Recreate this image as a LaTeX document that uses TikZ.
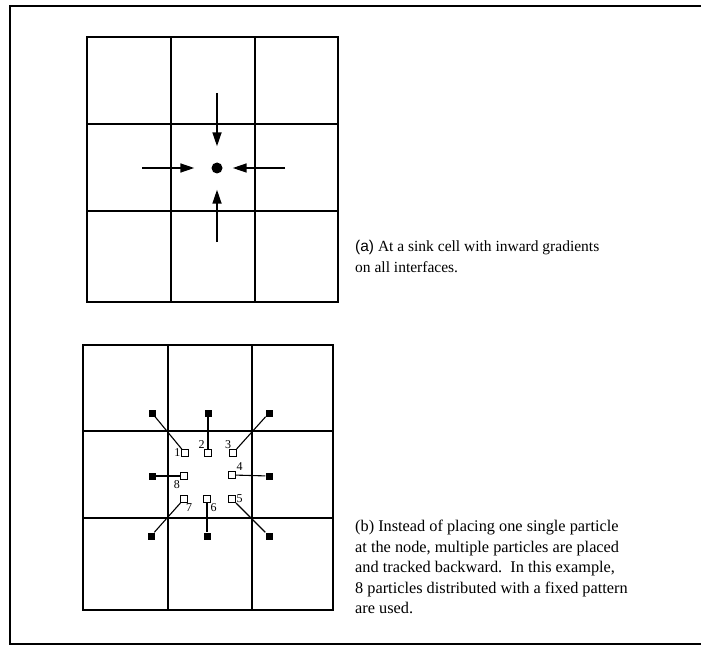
\documentclass[tikz,border=0pt]{standalone}
\usepackage{fontspec}
\setmainfont{Liberation Serif}
\setsansfont{Liberation Sans}
\usetikzlibrary{arrows.meta}

\tikzset{
	cellline/.style = {line width=2.1pt, black},
	gradarrow/.style = {line width=1.7pt, -{Triangle[length=14pt, width=9pt]}},
	sinkdot/.style = {circle, fill=black, inner sep=0pt, minimum size=11pt},
	opensq/.style = {draw, line width=1pt, fill=white, inner sep=0pt, minimum size=7pt},
	fullsq/.style = {fill=black, inner sep=0pt, minimum size=7pt},
	track/.style = {line width=1.1pt},
	numlbl/.style = {font=\fontsize{12}{12}\selectfont, inner sep=0.5pt},
	caption/.style = {align=left, inner sep=0pt, font=\fontsize{15.5}{21}\selectfont},
}

\begin{document}
\begin{tikzpicture}[x=1pt, y=-1pt]
	\useasboundingbox (0,0) rectangle (701,647);
	\draw [line width=1.5pt] (701,6) -- (10,6) -- (10,644) -- (701,644);
	% (a) sink cell
	\draw [cellline] (87,37) rectangle (338,302);
	\draw [cellline] (171,37) -- (171,302);
	\draw [cellline] (255,37) -- (255,302);
	\draw [cellline] (87,124) -- (338,124);
	\draw [cellline] (87,211) -- (338,211);
	\node [sinkdot] (dot) at (217,168) {};
	\coordinate (gt) at (217,93);
	\coordinate (gb) at (217,242);
	\coordinate (gl) at (142,168);
	\coordinate (gr) at (285,168);
	\draw [gradarrow, shorten >=16pt] (gt) -- (dot);
	\draw [gradarrow, shorten >=16pt] (gb) -- (dot);
	\draw [gradarrow, shorten >=17pt] (gl) -- (dot);
	\draw [gradarrow, shorten >=10pt] (gr) -- (dot);
	\node [caption, anchor=north west] (capa) at (355,240) {\textsf{(a)} At a sink cell with inward gradients\\on all interfaces.};
	% (b) particles
	\draw [cellline] (83,345) rectangle (333,610);
	\draw [cellline] (168,345) -- (168,610);
	\draw [cellline] (252,345) -- (252,610);
	\draw [cellline] (83,431) -- (333,431);
	\draw [cellline] (83,518) -- (333,518);
	\node [fullsq] (q1) at (152,413) {};
	\node [fullsq] (q2) at (208,413) {};
	\node [fullsq] (q3) at (269,413) {};
	\node [fullsq] (q4) at (269,476) {};
	\node [fullsq] (q5) at (269,536) {};
	\node [fullsq] (q6) at (207,536) {};
	\node [fullsq] (q7) at (151,536) {};
	\node [fullsq] (q8) at (152,476) {};
	\node [opensq, label={[numlbl]left:1}] (p1) at (185,453) {};
	\node [opensq, label={[numlbl]125:2}] (p2) at (208,453) {};
	\node [opensq, label={[numlbl]105:3}] (p3) at (233,453) {};
	\node [opensq, label={[numlbl]40:4}] (p4) at (232,475) {};
	\node [opensq, label={[numlbl]right:5}] (p5) at (232,499) {};
	\node [opensq, label={[numlbl]-55:6}] (p6) at (207,499) {};
	\node [opensq, label={[numlbl]-70:7}] (p7) at (184,499) {};
	\node [opensq, label={[numlbl]-130:8}] (p8) at (184,476) {};
	\draw [track] (p1) -- (q1);
	\draw [track] (p2) -- (q2);
	\draw [track] (p3) -- (q3);
	\draw [track] (p4) -- (q4);
	\draw [track] (p5) -- (q5);
	\draw [track] (p6) -- (q6);
	\draw [track] (p7) -- (q7);
	\draw [track] (p8) -- (q8);
	\node [caption, anchor=north west, font=\fontsize{16.3}{20.5}\selectfont] (capb) at (355,520) {(b) Instead of placing one single particle\\at the node, multiple particles are placed\\and tracked backward.\ \ In this example,\\8 particles distributed with a fixed pattern\\are used.};
\end{tikzpicture}
\end{document}
